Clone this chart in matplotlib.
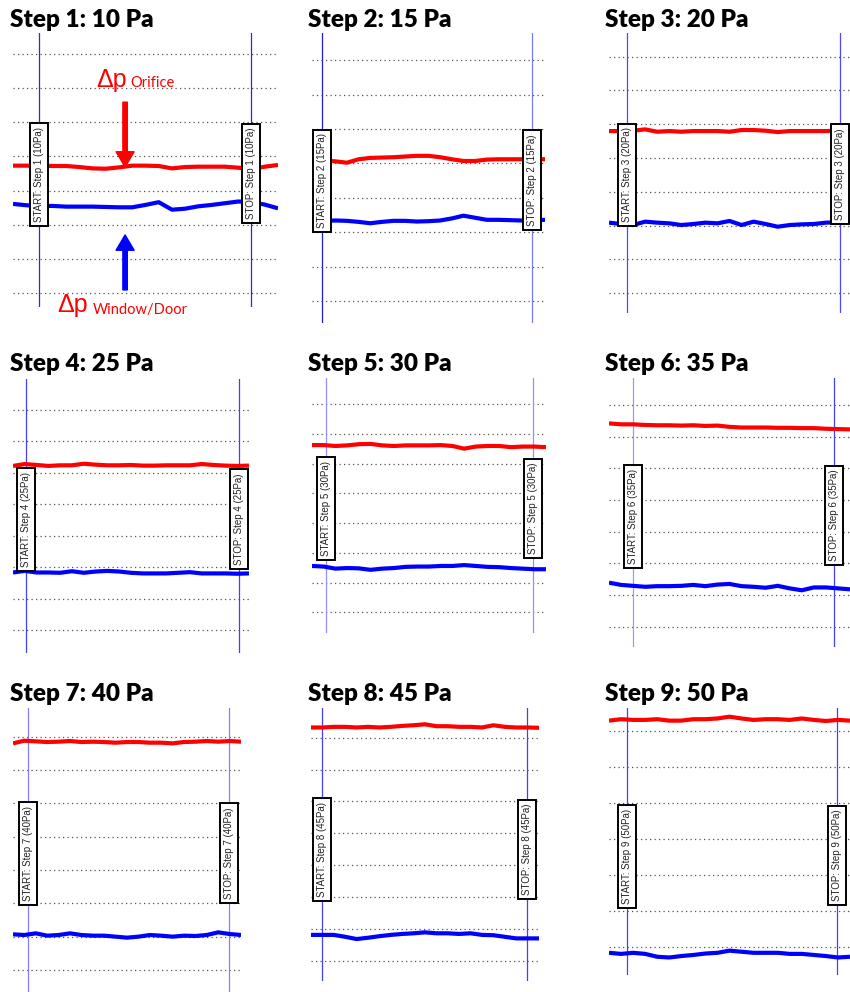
import matplotlib
matplotlib.use('Agg')
import matplotlib.pyplot as plt
import numpy as np

# sample times (percent of the recorded span shown in each screenshot)
t = np.arange(0, 101, 5)

steps = [1, 2, 3, 4, 5, 6, 7, 8, 9]
pressures = [10, 15, 20, 25, 30, 35, 40, 45, 50]

# readings in gridline units (0 = lowest dotted gridline of each panel)
red = [
    [3.73, 3.73, 3.73, 3.72, 3.72, 3.69, 3.65, 3.64, 3.68, 3.73, 3.73, 3.72, 3.65, 3.69, 3.70, 3.70, 3.70, 3.67, 3.63, 3.70, 3.75],
    [4.08, 4.08, 4.06, 4.02, 4.12, 4.16, 4.17, 4.18, 4.20, 4.22, 4.22, 4.18, 4.12, 4.07, 4.07, 4.11, 4.12, 4.12, 4.12, 4.12, 4.12],
    [4.80, 4.80, 4.81, 4.85, 4.78, 4.80, 4.78, 4.80, 4.80, 4.80, 4.78, 4.83, 4.83, 4.81, 4.77, 4.80, 4.80, 4.80, 4.80, 4.81, 4.80],
    [5.22, 5.28, 5.25, 5.22, 5.24, 5.24, 5.29, 5.26, 5.24, 5.24, 5.25, 5.23, 5.23, 5.24, 5.24, 5.24, 5.28, 5.25, 5.23, 5.22, 5.23],
    [5.63, 5.63, 5.60, 5.62, 5.66, 5.67, 5.62, 5.60, 5.62, 5.62, 5.62, 5.63, 5.60, 5.51, 5.58, 5.60, 5.60, 5.56, 5.58, 5.58, 5.56],
    [6.42, 6.39, 6.39, 6.37, 6.36, 6.36, 6.35, 6.36, 6.34, 6.35, 6.31, 6.29, 6.29, 6.29, 6.28, 6.28, 6.27, 6.27, 6.25, 6.24, 6.23],
    [6.80, 6.88, 6.86, 6.84, 6.85, 6.87, 6.84, 6.85, 6.84, 6.82, 6.84, 6.84, 6.82, 6.82, 6.80, 6.84, 6.85, 6.87, 6.85, 6.87, 6.85],
    [7.32, 7.32, 7.34, 7.34, 7.32, 7.34, 7.32, 7.34, 7.37, 7.39, 7.42, 7.36, 7.36, 7.34, 7.34, 7.32, 7.39, 7.34, 7.32, 7.32, 7.31],
    [6.29, 6.33, 6.31, 6.31, 6.33, 6.29, 6.29, 6.33, 6.33, 6.35, 6.40, 6.35, 6.31, 6.33, 6.33, 6.31, 6.35, 6.31, 6.28, 6.31, 6.29],
]
blue = [
    [2.61, 2.57, 2.55, 2.55, 2.53, 2.53, 2.53, 2.52, 2.51, 2.51, 2.58, 2.66, 2.44, 2.47, 2.54, 2.58, 2.63, 2.68, 2.66, 2.59, 2.48],
    [2.33, 2.33, 2.34, 2.33, 2.30, 2.26, 2.30, 2.33, 2.33, 2.31, 2.32, 2.34, 2.40, 2.48, 2.42, 2.36, 2.36, 2.35, 2.34, 2.35, 2.36],
    [2.09, 2.05, 2.02, 2.12, 2.09, 2.07, 2.02, 2.05, 2.09, 2.07, 2.14, 2.02, 2.12, 2.05, 1.97, 2.02, 2.04, 2.05, 2.09, 2.10, 2.12],
    [1.83, 1.88, 1.83, 1.83, 1.82, 1.87, 1.82, 1.86, 1.88, 1.86, 1.82, 1.80, 1.80, 1.80, 1.82, 1.84, 1.80, 1.80, 1.80, 1.79, 1.80],
    [1.56, 1.54, 1.47, 1.49, 1.48, 1.43, 1.47, 1.49, 1.53, 1.54, 1.54, 1.56, 1.56, 1.59, 1.56, 1.53, 1.52, 1.49, 1.47, 1.45, 1.45],
    [1.39, 1.32, 1.29, 1.26, 1.28, 1.28, 1.29, 1.32, 1.28, 1.33, 1.35, 1.28, 1.26, 1.23, 1.29, 1.21, 1.15, 1.24, 1.24, 1.21, 1.18],
    [1.07, 1.05, 1.10, 1.03, 1.05, 1.10, 1.05, 1.03, 1.03, 1.00, 0.97, 1.00, 1.05, 1.03, 1.00, 1.03, 1.02, 1.05, 1.13, 1.08, 1.05],
    [0.81, 0.81, 0.81, 0.75, 0.68, 0.72, 0.77, 0.81, 0.84, 0.86, 0.89, 0.86, 0.86, 0.84, 0.86, 0.81, 0.80, 0.75, 0.70, 0.70, 0.70],
    [-0.17, -0.20, -0.17, -0.20, -0.28, -0.30, -0.26, -0.23, -0.19, -0.17, -0.11, -0.14, -0.17, -0.17, -0.17, -0.20, -0.20, -0.23, -0.26, -0.30, -0.28],
]
# START / STOP marker times (percent of span)
start_t = [9.8, 4.3, 7.5, 5.5, 6.0, 10.0, 6.6, 4.8, 7.5]
stop_t = [89.8, 94.4, 95.9, 95.8, 94.4, 93.4, 94.7, 94.7, 94.6]
# label box centre heights (gridline units)
start_lab = [3.47, 3.49, 3.50, 3.52, 3.49, 3.48, 3.50, 3.49, 2.52]
stop_lab = [3.50, 3.52, 3.53, 3.53, 3.49, 3.51, 3.51, 3.49, 2.54]
n_grid = [8, 8, 8, 8, 8, 8, 8, 8, 7]

# layout in pixels: left, right, top, bottom, lowest gridline y, gridline spacing
panels = [
    (13, 278, 33, 307, 293.0, 34.14),
    (312, 545, 33, 323, 301.0, 34.4),
    (609, 850, 33, 313, 293.3, 33.8),
    (13, 249, 379, 653, 630.0, 31.43),
    (312, 546, 378, 633, 612.3, 29.7),
    (609, 850, 378, 647, 626.7, 31.67),
    (13, 241, 708, 992, 970.0, 33.33),
    (311, 539, 708, 981, 960.7, 31.86),
    (609, 850, 708, 975, 946.7, 35.94),
]
vcolors = [
    ('#2a2ae6', '#2a2ae6'), ('#1e1ed8', '#7a7aff'), ('#4a4aff', '#4a4aff'),
    ('#4040ff', '#4040ff'), ('#9090ff', '#9090ff'), ('#9999ff', '#4040ff'),
    ('#8080ff', '#8080ff'), ('#4040ff', '#4040ff'), ('#4040ff', '#4040ff'),
]
title_pos = [(10, 27), (308, 27), (605, 27), (10, 371), (308, 371), (605, 371),
             (10, 701), (308, 701), (605, 701)]

W, H = 850, 992
fig = plt.figure(figsize=(W / 100, H / 100), dpi=100)

for i, (l, r, top, bot, g0, s) in enumerate(panels):
    ax = fig.add_axes([l / W, 1 - bot / H, (r - l) / W, (bot - top) / H])
    ax.set_xlim(0, 100)
    ax.set_ylim((g0 - bot) / s, (g0 - top) / s)
    ax.axis('off')
    for g in range(n_grid[i]):
        ax.axhline(g, color='#555555', lw=0.9, ls=(0, (1, 2.6)), zorder=1)
    ax.axvline(start_t[i], color=vcolors[i][0], lw=0.9, zorder=2)
    ax.axvline(stop_t[i], color=vcolors[i][1], lw=0.9, zorder=2)
    ax.plot(t, red[i], color='#ff0000', lw=3.0, zorder=3, solid_capstyle='butt')
    ax.plot(t, blue[i], color='#0000ff', lw=3.0, zorder=3, solid_capstyle='butt')
    box = dict(boxstyle='square,pad=0.4', fc='white', ec='black', lw=1.4)
    ax.text(start_t[i], start_lab[i], f'START: Step {steps[i]} ({pressures[i]}Pa)',
            rotation=90, ha='center', va='center', fontsize=7, color='#222222',
            family='Liberation Sans', bbox=box, zorder=5)
    ax.text(stop_t[i], stop_lab[i], f'STOP: Step {steps[i]} ({pressures[i]}Pa)',
            rotation=90, ha='center', va='center', fontsize=7, color='#222222',
            family='Liberation Sans', bbox=box, zorder=5)
    tx, ty = title_pos[i]
    fig.text(tx / W, 1 - ty / H, f'Step {steps[i]}: {pressures[i]} Pa',
             fontsize=17.5, fontweight='heavy', family=['Lato', 'DejaVu Sans'],
             va='baseline', ha='left')

    if i == 0:
        # arrows pointing at the two pressure traces
        ax.annotate('', xy=(42.3, 3.69), xytext=(42.3, 5.59),
                    arrowprops=dict(width=3.2, headwidth=13, headlength=11,
                                    color='#ff0000', shrink=0))
        ax.annotate('', xy=(42.3, 1.70), xytext=(42.3, 0.09),
                    arrowprops=dict(width=3.2, headwidth=13, headlength=11,
                                    color='#0000ff', shrink=0))

fam = ['Liberation Sans', 'DejaVu Sans']
fig.text(96 / W, 1 - 87 / H, '\u0394p', fontsize=18, color='#ff0000', family=fam, va='baseline')
fig.text(130 / W, 1 - 87 / H, 'Orifice', fontsize=10.5, color='#ff0000', family=['Lato', 'DejaVu Sans'], va='baseline')
fig.text(57 / W, 1 - 312 / H, '\u0394p', fontsize=18, color='#ff0000', family=fam, va='baseline')
fig.text(93 / W, 1 - 314 / H, 'Window/Door', fontsize=10.5, color='#ff0000', family=['Lato', 'DejaVu Sans'], va='baseline')

fig.savefig('out.png', dpi=100, facecolor='white')
